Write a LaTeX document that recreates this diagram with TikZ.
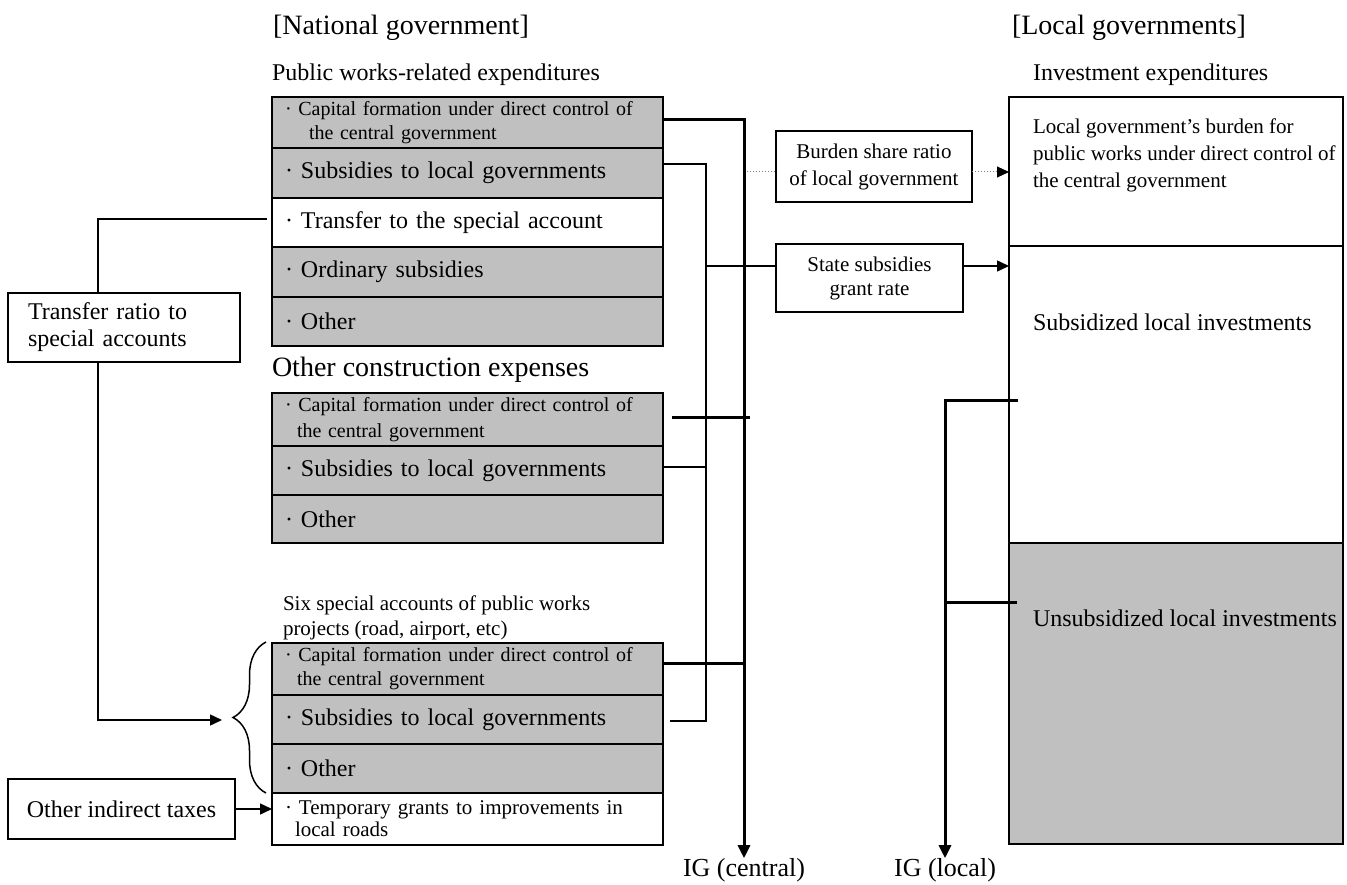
\documentclass[tikz,border=0pt]{standalone}
\usepackage{fontspec}
\setmainfont{Liberation Serif}
\usetikzlibrary{arrows.meta,decorations.pathreplacing,calc}
\definecolor{boxgray}{RGB}{192,192,192}
\newcommand{\fsHead}{\fontsize{28}{32}\selectfont}
\newcommand{\fsBig}{\fontsize{24}{27}\selectfont}
\newcommand{\fsSmall}{\fontsize{21}{24}\selectfont}
\newcommand{\fsCap}{\fontsize{20}{24}\selectfont}
\newcommand{\fsLoc}{\fontsize{21}{27}\selectfont}
\begin{document}
\begin{tikzpicture}[x=1pt,y=-1pt,
  txt/.style={inner sep=0pt, outer sep=0pt},
  row/.style={draw, line width=1.5pt, anchor=north west, outer sep=0pt,
    inner xsep=13pt, inner ysep=0pt, text width=365pt, align=left, minimum width=391pt},
  grayrow/.style={row, fill=boxgray},
  whiterow/.style={row, fill=white},
  lbox/.style={draw, line width=1.5pt, fill=white, inner sep=0pt, outer sep=0pt},
  thickline/.style={line width=3pt},
  thinline/.style={line width=1.5pt},
  dotline/.style={line width=1pt, dotted, gray},
  bigtip/.style={-{Triangle[length=13pt,width=12pt]}},
  smalltip/.style={-{Triangle[length=12pt,width=11pt,color=black]}}
]
\useasboundingbox (0,0) rectangle (1347,885);

% headings
\node[txt, anchor=west, font=\fsHead] (natl) at (273,28) {[National government]};
\node[txt, anchor=west, font=\fsHead] (locl) at (1012,28) {[Local governments]};
\node[txt, anchor=west, font=\fsBig] (pwre) at (272,75) {Public works-related expenditures};
\node[txt, anchor=west, font=\fsHead] (oce) at (272,370) {Other construction expenses};
\node[txt, anchor=west, align=left, font=\fontsize{21}{25}\selectfont] (ssa) at (283,617.5) {Six special accounts of public works\\projects (road, airport, etc)};
\node[txt, anchor=west, font=\fsBig] (ie) at (1033,75) {Investment expenditures};

% stack 1
\node[grayrow, minimum height=51pt, font=\fsCap] (p1) at (272,97) {· Capital formation under direct control of\\\hspace*{24pt}the central government};
\node[grayrow, minimum height=50pt, font=\fsBig] (p2) at (272,148) {· Subsidies to local governments};
\node[whiterow, minimum height=49pt, font=\fsBig] (p3) at (272,198) {· Transfer to the special account};
\node[grayrow, minimum height=50pt, font=\fsBig] (p4) at (272,247) {· Ordinary subsidies};
\node[grayrow, minimum height=49pt, font=\fsBig] (p5) at (272,297) {· Other};

% stack 2
\node[grayrow, minimum height=53pt, font=\fontsize{20}{26}\selectfont] (q1) at (272,393) {· Capital formation under direct control of\\\hspace*{12pt}the central government};
\node[grayrow, minimum height=49pt, font=\fsBig] (q2) at (272,446) {· Subsidies to local governments};
\node[grayrow, minimum height=48pt, font=\fsBig] (q3) at (272,495) {· Other};

% stack 3
\node[grayrow, minimum height=52pt, font=\fsCap] (r1) at (272,643) {· Capital formation under direct control of\\\hspace*{12pt}the central government};
\node[grayrow, minimum height=49pt, font=\fsBig] (r2) at (272,695) {· Subsidies to local governments};
\node[grayrow, minimum height=49pt, font=\fsBig] (r3) at (272,744) {· Other};
\node[whiterow, minimum height=52pt, font=\fontsize{21}{22}\selectfont] (r4) at (272,793) {· Temporary grants to improvements in\\\hspace*{10pt}local roads};

% local government boxes
\node[lbox, anchor=north west, minimum width=334pt, minimum height=149pt] (l1) at (1009,97) {};
\node[lbox, anchor=north west, minimum width=334pt, minimum height=297pt] (l2) at (1009,246) {};
\node[lbox, anchor=north west, minimum width=334pt, minimum height=301pt, fill=boxgray] (l3) at (1009,543) {};
\node[txt, anchor=north west, align=left, font=\fsLoc] (l1t) at (1033,119) {Local government’s burden for\\public works under direct control of\\the central government};
\node[txt, anchor=west, font=\fsBig] (l2t) at (1033,322) {Subsidized local investments};
\node[txt, anchor=west, font=\fsBig] (l3t) at (1033,618) {Unsubsidized local investments};

% middle label boxes
\node[lbox, minimum width=196pt, minimum height=71pt, align=center, font=\fontsize{21}{27}\selectfont] (bsr) at (874,166.5) {Burden share ratio\\of local government};
\node[lbox, minimum width=187pt, minimum height=68pt, align=center, font=\fsSmall] (ssg) at (869.5,278) {State subsidies\\grant rate};

% IG labels
\node[txt, font=\fontsize{26}{30}\selectfont] (igc) at (744,870) {IG (central)};
\node[txt, font=\fontsize{26}{30}\selectfont] (igl) at (945,870) {IG (local)};

% central IG thick connectors
\draw[thickline, bigtip] ($(p1.east)+(0,-2.5)$) -| (igc.north);
\draw[thickline] ($(q1.east)+(9,-2.5)$) -- ($(q1.east -| igc.north)+(6,-2.5)$);
\draw[thickline] ($(r1.east)+(0,-6)$) -- ($(r1.east -| igc.north)+(0,-6)$);

% subsidies bus
\draw[thinline] ($(p2.east)+(0,-9)$) -| ($(r2.east)+(43,1.5)$) -- ($(r2.east)+(7,1.5)$);
\draw[thinline] ($(q2.east)+(0,-3.5)$) -- ($(q2.east)+(43,-3.5)$);
\draw[thinline] ($(p2.east)+(43,93)$) -- ($(ssg.west)+(0,-12)$);
\draw[thinline, smalltip] ($(ssg.east)+(0,-12)$) -- ($(ssg.east -| l2.west)+(0,-12)$);

% burden dotted
\draw[dotline] ($(bsr.west)+(-29,5.5)$) -- ($(bsr.west)+(0,5.5)$);
\draw[dotline, smalltip] ($(bsr.east)+(0,5.5)$) -- ($(bsr.east -| l1.west)+(0,5.5)$);

% local IG connectors
\draw[thickline, bigtip] ($(l2.west)+(9,5.5)$) -| (igl.north);
\draw[thickline] ($(l3.west)+(8,-91.5)$) -- ($(l3.west -| igl.north)+(0,-91.5)$);

% transfer line and brace
\coordinate (tb1) at (98,219);
\coordinate (tb2) at (98,720);
\coordinate (brin) at (222,720);
\draw[thinline, smalltip] ($(p3.west)+(-5,-3.5)$) -- (tb1) -- (tb2) -- (brin);
\node[lbox, minimum width=232pt, minimum height=69pt, text width=192pt, inner xsep=20pt, align=left, font=\fontsize{24}{27}\selectfont] (tr) at (124,327.5) {Transfer ratio to\\special accounts};
\draw[thinline, decorate, decoration={brace, amplitude=33pt}] (266,793) -- (266,642);

% other indirect taxes
\node[lbox, minimum width=227pt, minimum height=60pt, font=\fsBig] (oit) at (121.5,809) {Other indirect taxes};
\draw[thinline, smalltip] (oit.east) -- (oit.east -| r4.west);
\end{tikzpicture}
\end{document}
